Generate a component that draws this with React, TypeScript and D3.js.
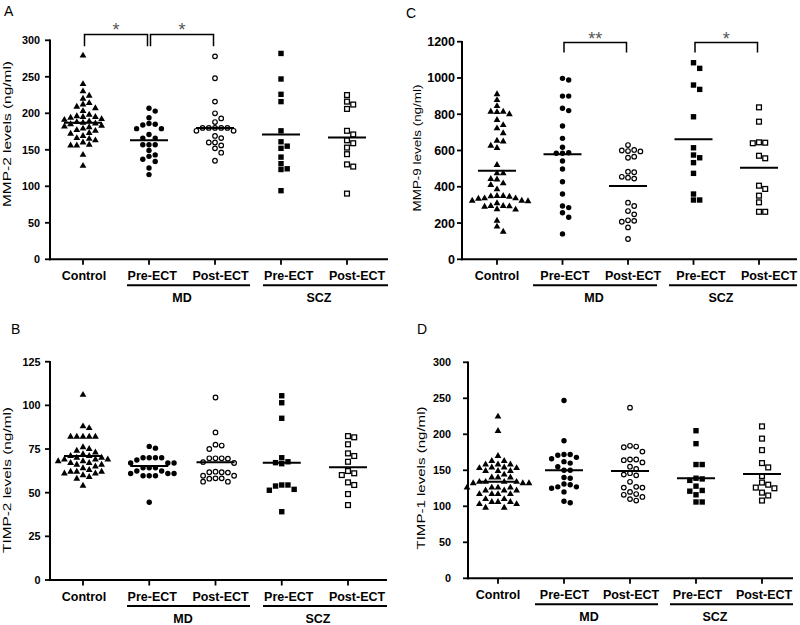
import React from "react";
import * as d3 from "d3";

// ---------- data ----------
const groupKeys = ["ctrl", "mdPre", "mdPost", "sczPre", "sczPost"];
const categoryLabels = ["Control", "Pre-ECT", "Post-ECT", "Pre-ECT", "Post-ECT"];
const markerTypes = ["triangle", "dot", "circle", "square", "openSquare"];
const diagnosisGroups = ["MD", "SCZ"];

// Panel A: MMP-2
const ctrlA = [279, 240, 230, 224, 220, 214, 212, 209, 207, 203, 198, 196, 195, 195, 194, 192, 191, 189, 188, 187, 186, 185, 183, 182, 181, 179, 177, 176, 173, 172, 169, 166, 165, 163, 160, 157, 156, 156, 143, 128];
const preA = [207, 203, 194, 186, 185, 184, 179, 179, 171, 166, 166, 157, 157, 157, 149, 143, 141, 137, 134, 125, 116];
const postA = [278, 248, 216, 200, 193, 188, 180, 180, 180, 180, 180, 176, 176, 169, 166, 160, 160, 156, 152, 146, 135];
const sczPreA = [282, 247, 226, 216, 176, 161, 155, 152, 140, 131, 124, 123, 94];
const sczPostA = [225, 216, 212, 206, 176, 171, 163, 159, 153, 144, 130, 127, 90];
const linesA = [187, 163, 180, 171, 167];
const ticksA = [0, 50, 100, 150, 200, 250, 300];

// Panel B: TIMP-2
const ctrlB = [106, 88, 87, 82, 82, 82, 82, 82, 76, 75, 74, 73, 72, 71, 71, 70, 70, 69, 69, 69, 68, 68, 67, 67, 66, 66, 65, 64, 63, 62, 62, 62, 61, 61, 60, 59, 58, 54];
const preB = [76.5, 75.5, 70, 70, 70, 70, 68.7, 67, 67, 67, 64.3, 64.3, 64.3, 62.4, 62.4, 61, 61, 61, 59.7, 59.7, 59.7, 44.5];
const postB = [104.5, 84.5, 77.5, 77, 75, 69.7, 69.7, 69.7, 69.5, 67.5, 67, 62, 61.7, 61.7, 61.5, 59.7, 59.7, 58.2, 58.2, 58, 56.3, 56.3];
const sczPreB = [105.5, 101.5, 92.6, 70, 67.7, 67.2, 66.6, 54.4, 54.4, 53.8, 51.9, 51.4, 39.1];
const sczPostB = [82.4, 81.7, 77.7, 72.5, 71, 67.7, 62.4, 61.1, 60.1, 55.9, 54.4, 49.2, 42.9];
const linesB = [71, 65.3, 67.4, 67.2, 64.5];
const ticksB = [0, 25, 50, 75, 100, 125];

// Panel C: MMP-9
const ctrlC = [910, 878, 845, 814, 814, 812, 800, 768, 740, 722, 695, 654, 650, 626, 614, 520, 474, 474, 443, 440, 419, 410, 386, 349, 349, 347, 345, 336, 336, 334, 323, 323, 320, 309, 294, 294, 292, 290, 276, 274, 213, 180, 152];
const preC = [998, 989, 900, 900, 833, 820, 735, 667, 618, 588, 585, 585, 542, 498, 428, 360, 294, 285, 257, 232, 140];
const postC = [630, 603, 600, 597, 595, 566, 560, 483, 480, 455, 450, 445, 312, 294, 266, 248, 215, 212, 207, 176, 112];
const sczPreC = [1084, 1053, 961, 937, 786, 615, 575, 560, 533, 474, 360, 327, 327];
const sczPostC = [838, 759, 645, 643, 640, 571, 557, 406, 388, 351, 314, 262, 262];
const linesC = [489, 580, 404, 662, 505];
const ticksC = [0, 200, 400, 600, 800, 1000, 1200];

// Panel D: TIMP-1
const ctrlD = [224.5, 204.6, 169.9, 163, 163, 158, 158, 158, 154, 154, 153, 153, 149, 149, 149, 144, 140, 140, 140, 134, 134, 134, 134, 132, 132, 132, 126, 126, 126, 126, 122, 122, 122, 117, 117, 117, 117, 110, 110, 106, 106, 106, 103, 103, 98, 98];
const preD = [247, 191, 172, 172, 171, 168, 166, 162, 160, 155, 150, 150, 140, 139, 131, 130, 127, 127, 125, 120, 107, 105];
const postD = [237, 184, 183, 182, 176, 165, 165, 164, 161, 155, 152, 146, 144, 143, 134, 127, 126, 126, 120, 117, 116, 113, 110, 108];
const sczPreD = [205, 187, 158, 158, 139, 138, 136, 128, 122, 121, 116, 106, 106];
const sczPostD = [211, 194, 178, 160, 154, 142, 133, 130, 126, 125, 119, 115, 108];
const linesD = [134, 150, 149, 139, 145];
const ticksD = [0, 50, 100, 150, 200, 250, 300];

// significance brackets (group index from/to, label, levels in data units)
const bracketsA = [
  { from: 0, to: 1, label: "*", top: 308, bottom: 292 },
  { from: 1, to: 2, label: "*", top: 308, bottom: 292 },
];
const bracketsC = [
  { from: 1, to: 2, label: "**", top: 1195, bottom: 1140 },
  { from: 3, to: 4, label: "*", top: 1195, bottom: 1140 },
];

// ---------- layout ----------
const panels = [
  {
    letter: "A", yLabel: "MMP-2 levels (ng/ml)", ticks: ticksA,
    series: [ctrlA, preA, postA, sczPreA, sczPostA], lines: linesA, brackets: bracketsA,
    L: { axisX: 50, axisRight: 388, yTop: 40.3, yBottom: 259.3, dataX: [83, 347], labelX: [84, 357],
      letter: [4, 16], yLabel: [11, 134, 146], underlines: [[127, 250], [263, 388]], groupX: [182, 319],
      tickFont: 10.8, tickGap: 10 },
  },
  {
    letter: "C", yLabel: "MMP-9 levels (ng/ml)", ticks: ticksC,
    series: [ctrlC, preC, postC, sczPreC, sczPostC], lines: linesC, brackets: bracketsC,
    L: { axisX: 462, axisRight: 797, yTop: 41.7, yBottom: 259.3, dataX: [497, 759], labelX: [497, 769],
      letter: [406, 18], yLabel: [421, 148, 127], underlines: [[533, 657], [669, 797]], groupX: [594, 721],
      tickFont: 12.5, tickGap: 7 },
  },
  {
    letter: "B", yLabel: "TIMP-2 levels (ng/ml)", ticks: ticksB,
    series: [ctrlB, preB, postB, sczPreB, sczPostB], lines: linesB, brackets: [],
    L: { axisX: 50, axisRight: 387, yTop: 361.7, yBottom: 580, dataX: [83, 348], labelX: [84, 357],
      letter: [11, 334], yLabel: [11, 480, 146], underlines: [[127, 250], [263, 387]], groupX: [183, 318],
      tickFont: 10.8, tickGap: 9.5 },
  },
  {
    letter: "D", yLabel: "TIMP-1 levels (ng/ml)", ticks: ticksD,
    series: [ctrlD, preD, postD, sczPreD, sczPostD], lines: linesD, brackets: [],
    L: { axisX: 468, axisRight: 793, yTop: 362.3, yBottom: 578.3, dataX: [498, 762], labelX: [498, 764],
      letter: [417, 334], yLabel: [425, 478, 143], underlines: [[535, 658], [670, 793]], groupX: [589, 715],
      tickFont: 10.8, tickGap: 17 },
  },
];

const FONT = "'Liberation Sans', Arial, Helvetica, sans-serif";

function beeswarm(values: number[], y: (v: number) => number, cx: number, step: number, minDist: number) {
  const placed: { x: number; y: number }[] = [];
  const out: { x: number; y: number }[] = new Array(values.length);
  const order = values.map((v, i) => ({ v, i })).sort((a, b) => b.v - a.v);
  for (const { v, i } of order) {
    const py = y(v);
    let px = cx;
    for (let n = 0; n < 60; n++) {
      const k = Math.ceil(n / 2);
      const off = n === 0 ? 0 : n % 2 === 1 ? k : -k;
      px = cx + off * step;
      if (!placed.some((p) => Math.hypot(p.x - px, p.y - py) < minDist)) break;
    }
    placed.push({ x: px, y: py });
    out[i] = { x: px, y: py };
  }
  return out;
}

const triPath = d3.symbol(d3.symbolTriangle, 20)() as string;

function Marker({ type, x, y }: { type: string; x: number; y: number }) {
  switch (type) {
    case "triangle":
      return <path d={triPath} transform={`translate(${x},${y})`} fill="#000" />;
    case "dot":
      return <circle cx={x} cy={y} r={2.7} fill="#000" />;
    case "circle":
      return <circle cx={x} cy={y} r={2.3} fill="#fff" stroke="#000" strokeWidth={1.2} />;
    case "square":
      return <rect x={x - 2.7} y={y - 2.7} width={5.4} height={5.4} fill="#000" />;
    default:
      return <rect x={x - 2.4} y={y - 2.4} width={4.8} height={4.8} fill="#fff" stroke="#000" strokeWidth={1.3} />;
  }
}

function Panel({ p }: { p: (typeof panels)[number] }) {
  const L = p.L;
  const yMax = p.ticks[p.ticks.length - 1];
  const y = d3.scaleLinear().domain([0, yMax]).range([L.yBottom, L.yTop]);
  const x = d3.scalePoint<string>().domain(groupKeys).range(L.dataX as [number, number]);
  const xl = d3.scalePoint<string>().domain(groupKeys).range(L.labelX as [number, number]);
  return (
    <g fontFamily={FONT}>
      <text x={L.letter[0]} y={L.letter[1]} fontSize={14}>{p.letter}</text>
      <text
        transform={`translate(${L.yLabel[0]},${L.yLabel[1]}) rotate(-90)`}
        textAnchor="middle"
        fontSize={11.5}
        textLength={L.yLabel[2]}
        lengthAdjust="spacingAndGlyphs"
      >
        {p.yLabel}
      </text>
      {/* axes */}
      <line x1={L.axisX} x2={L.axisX} y1={y(yMax) - 0.8} y2={L.yBottom + 1} stroke="#000" strokeWidth={2} />
      <line x1={L.axisX - 1} x2={L.axisRight} y1={L.yBottom} y2={L.yBottom} stroke="#000" strokeWidth={2} />
      {p.ticks.map((t) => (
        <g key={t}>
          <line x1={L.axisX - 5} x2={L.axisX} y1={y(t)} y2={y(t)} stroke="#000" strokeWidth={1.8} />
          <text x={L.axisX - L.tickGap} y={y(t)} dy="0.36em" textAnchor="end" fontSize={L.tickFont} fontWeight="bold">
            {t}
          </text>
        </g>
      ))}
      {groupKeys.map((k, i) => (
        <g key={k}>
          <line x1={x(k)} x2={x(k)} y1={L.yBottom} y2={L.yBottom + 5.5} stroke="#000" strokeWidth={1.8} />
          <text x={xl(k)} y={L.yBottom + 21} textAnchor="middle" fontSize={12.5} fontWeight="bold">
            {categoryLabels[i]}
          </text>
        </g>
      ))}
      {diagnosisGroups.map((g, i) => (
        <g key={g}>
          <line x1={L.underlines[i][0]} x2={L.underlines[i][1]} y1={L.yBottom + 26} y2={L.yBottom + 26} stroke="#000" strokeWidth={2} />
          <text x={L.groupX[i]} y={L.yBottom + 43} textAnchor="middle" fontSize={12.5} fontWeight="bold">
            {g}
          </text>
        </g>
      ))}
      {/* points */}
      {p.series.map((vals, gi) => {
        const pts = beeswarm(vals, y, x(groupKeys[gi]) as number, 6.2, 5.8);
        return (
          <g key={gi}>
            {pts.map((pt, j) => (
              <Marker key={j} type={markerTypes[gi]} x={pt.x} y={pt.y} />
            ))}
          </g>
        );
      })}
      {/* center lines */}
      {p.lines.map((v, gi) => {
        const cx = x(groupKeys[gi]) as number;
        return <line key={gi} x1={cx - 19} x2={cx + 19} y1={y(v)} y2={y(v)} stroke="#000" strokeWidth={2} />;
      })}
      {/* brackets */}
      {p.brackets.map((b, i) => {
        const x1 = (x(groupKeys[b.from]) as number) + 1.5;
        const x2 = (x(groupKeys[b.to]) as number) - 1.5;
        const yt = y(b.top);
        const yb = y(b.bottom);
        return (
          <g key={i}>
            <path d={`M${x1},${yb}V${yt}H${x2}V${yb}`} fill="none" stroke="#000" strokeWidth={1.5} />
            <text x={(x1 + x2) / 2} y={yt + 2} textAnchor="middle" fontSize={18} fill="#555">
              {b.label}
            </text>
          </g>
        );
      })}
    </g>
  );
}

export default function App() {
  return (
    <svg
      width={800}
      height={625}
      viewBox="0 0 800 625"
      style={{ position: "absolute", left: 0, top: 0, background: "#fff" }}
    >
      <rect width={800} height={625} fill="#fff" />
      {panels.map((p) => (
        <Panel key={p.letter} p={p} />
      ))}
    </svg>
  );
}
